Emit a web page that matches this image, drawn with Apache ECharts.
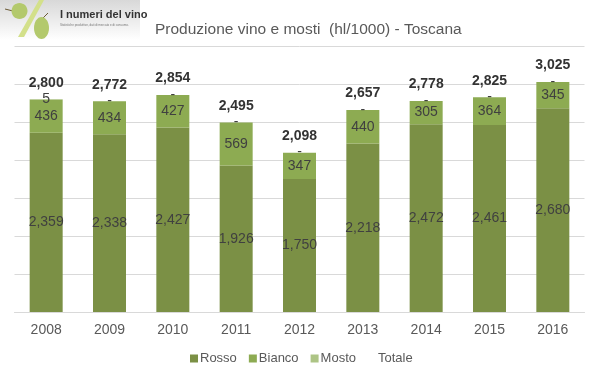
<!DOCTYPE html>
<html>
<head>
<meta charset="utf-8">
<style>
  html, body { margin: 0; padding: 0; background: #fff; }
  #chart { width: 599px; height: 378px; }
</style>
<script src="https://cdn.jsdelivr.net/npm/echarts@6/dist/echarts.min.js"></script>
</head>
<body>
<div id="chart"></div>
<script>
const years = ["2008", "2009", "2010", "2011", "2012", "2013", "2014", "2015", "2016"];
const rosso = [2359, 2338, 2427, 1926, 1750, 2218, 2472, 2461, 2680];
const bianco = [436, 434, 427, 569, 347, 440, 305, 364, 345];
const mosto = [5, 0, 0, 0, 0, 0, 0, 0, 0];
const totale = [2800, 2772, 2854, 2495, 2098, 2657, 2778, 2825, 3025];

const textColor = "#404040";
const fmt = (v) => (v === 0 ? "-" : v.toLocaleString("en-US"));

const barLabel = {
  show: true,
  position: "inside",
  color: textColor,
  fontFamily: "Liberation Sans",
  fontSize: 14,
  formatter: (p) => fmt(p.value),
};

const chart = echarts.init(document.getElementById("chart"));

chart.setOption({
  animation: false,
  backgroundColor: "#fff",
  grid: { left: 14.5, right: 14.5, top: 46, bottom: 66 },
  title: {
    text: "Produzione vino e mosti  (hl/1000) - Toscana",
    left: 150,
    top: 17,
    textStyle: {
      color: "#595959",
      fontFamily: "Liberation Sans",
      fontWeight: "normal",
      fontSize: 15.5,
    },
  },
  legend: {
    left: 185,
    top: 347,
    itemWidth: 8,
    itemHeight: 8,
    itemGap: 12,
    icon: "rect",
    textStyle: {
      color: "#595959",
      fontFamily: "Liberation Sans",
      fontSize: 13,
      padding: [0, 0, 0, -3],
    },
    data: ["Rosso", "Bianco", "Mosto", "Totale"],
  },
  xAxis: {
    type: "category",
    data: years,
    axisTick: { show: false },
    axisLine: { lineStyle: { color: "#d9d9d9", width: 1 } },
    axisLabel: {
      color: "#595959",
      fontFamily: "Liberation Sans",
      fontSize: 14,
      margin: 11,
    },
  },
  yAxis: {
    type: "value",
    min: 0,
    max: 3500,
    interval: 500,
    axisLabel: { show: false },
    axisLine: { show: false },
    axisTick: { show: false },
    splitLine: { lineStyle: { color: "#d9d9d9", width: 1 } },
  },
  series: [
    { name: "Rosso", type: "bar", stack: "tot", data: rosso, barWidth: 33,
      itemStyle: { color: "#7b9045" }, label: barLabel },
    { name: "Bianco", type: "bar", stack: "tot", data: bianco,
      itemStyle: { color: "#8dab52" }, label: barLabel },
    { name: "Mosto", type: "bar", stack: "tot", data: mosto,
      itemStyle: { color: "#adc485" }, label: barLabel },
    {
      name: "Totale",
      type: "line",
      data: totale,
      symbol: "circle",
      symbolSize: 1,
      lineStyle: { opacity: 0 },
      itemStyle: { color: "rgba(0,0,0,0)" },
      z: 5,
      label: {
        show: true,
        position: "top",
        distance: 9,
        color: "#333333",
        fontFamily: "Liberation Sans",
        fontWeight: "bold",
        fontSize: 14,
        formatter: (p) => fmt(p.value),
      },
    },
  ],
  graphic: [
    // logo block, top left
    { type: "rect", shape: { x: 0, y: 0, width: 140, height: 40 }, silent: true,
      style: { fill: new echarts.graphic.LinearGradient(0, 0, 0, 1, [
        { offset: 0, color: "#d8d8d8" }, { offset: 1, color: "#ffffff" },
      ]) } },
    { type: "polygon", shape: { points: [[39, 0], [44, 0], [24, 37], [18, 37]] }, silent: true,
      style: { fill: "#d3e08a" } },
    { type: "line", shape: { x1: 5, y1: 9, x2: 13, y2: 11 }, silent: true,
      style: { stroke: "#6b5a35", lineWidth: 1 } },
    { type: "ellipse", shape: { cx: 19.5, cy: 11, rx: 8, ry: 8 }, silent: true,
      style: { fill: "#b3c96c" } },
    { type: "line", shape: { x1: 48, y1: 13, x2: 42, y2: 19 }, silent: true,
      style: { stroke: "#6b5a35", lineWidth: 1 } },
    { type: "ellipse", shape: { cx: 41.5, cy: 28, rx: 7.5, ry: 11 }, silent: true,
      style: { fill: "#b3c96c" } },
    { type: "text", left: 60, top: 9, silent: true,
      style: { text: "I numeri del vino", fill: "#333333",
        font: "bold 11px 'Liberation Sans'" } },
    { type: "text", left: 60, top: 24, silent: true,
      style: { text: "Statistiche produttive, dati di mercato e di consumo.", fill: "#777777",
        font: "3px 'Liberation Sans'" } },
  ],
});
</script>
</body>
</html>
